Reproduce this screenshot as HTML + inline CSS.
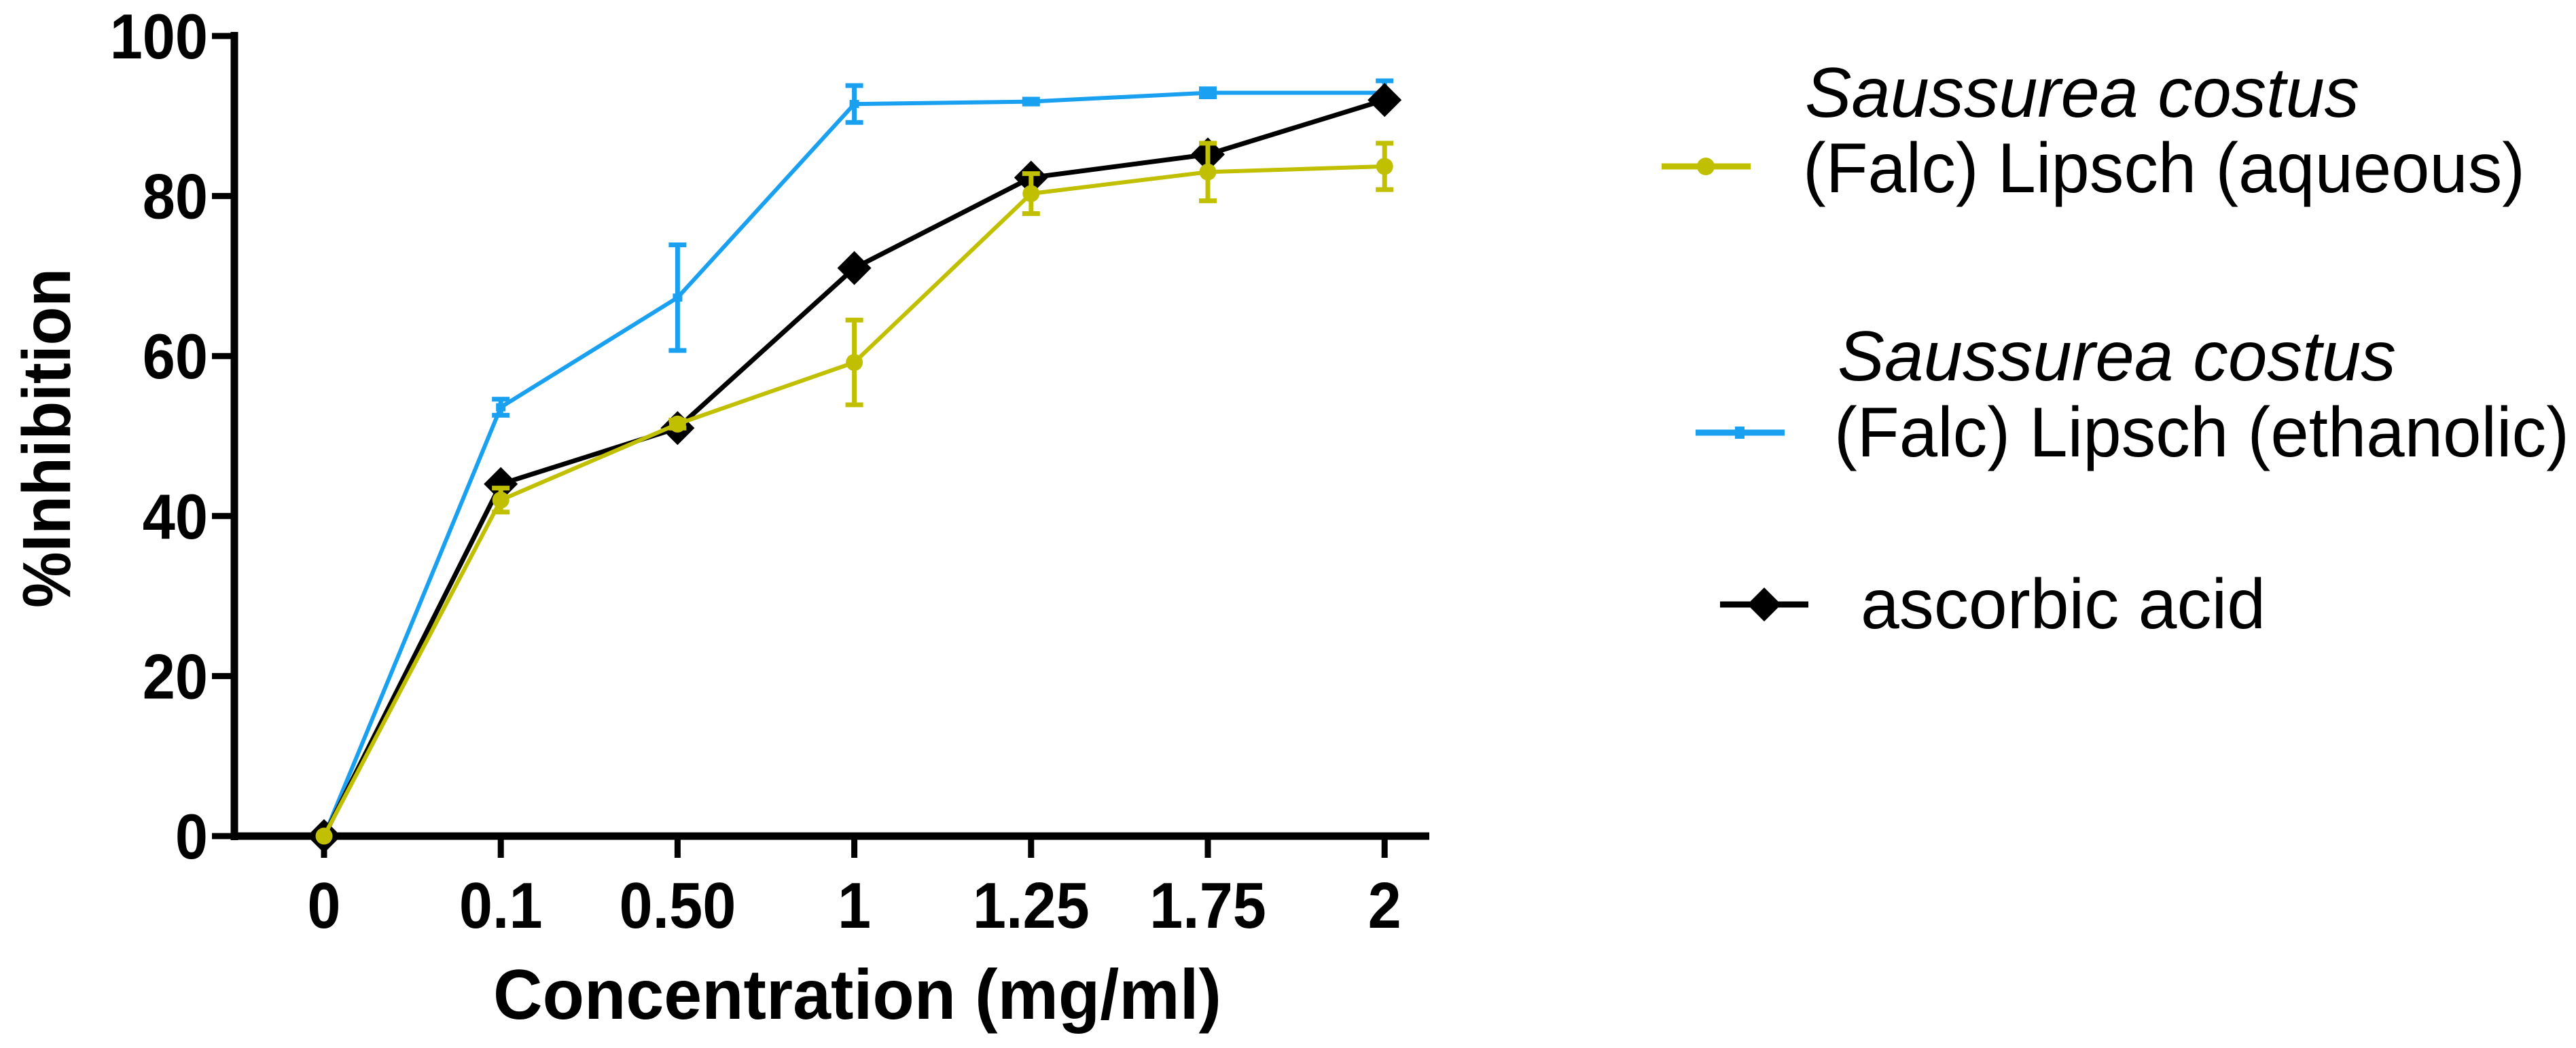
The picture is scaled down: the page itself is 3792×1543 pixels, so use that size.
<!DOCTYPE html>
<html><head><meta charset="utf-8"><style>
html,body{margin:0;padding:0;background:#fff;}
svg{display:block;}
</style></head><body>
<svg id="chart" width="3792" height="1543" viewBox="0 0 3792 1543" xmlns="http://www.w3.org/2000/svg">
<g id="axes"></g>
<g id="series"></g>
<g id="legend">
  <g>
    <line x1="2446" y1="245" x2="2577" y2="245" stroke="#c0c000" stroke-width="9"/>
    <circle cx="2511" cy="245" r="13" fill="#c0c000"/>
    <text x="2657" y="172" font-family="Liberation Sans, sans-serif" font-style="italic" font-size="104" textLength="816" lengthAdjust="spacingAndGlyphs">Saussurea costus</text>
    <text x="2654" y="283" font-family="Liberation Sans, sans-serif" font-size="104" textLength="1063" lengthAdjust="spacingAndGlyphs">(Falc) Lipsch (aqueous)</text>
  </g>
  <g>
    <line x1="2496" y1="637" x2="2627" y2="637" stroke="#1aa0f0" stroke-width="9"/>
    <rect x="2554" y="628" width="14" height="18" fill="#1aa0f0"/>
    <text x="2705" y="560" font-family="Liberation Sans, sans-serif" font-style="italic" font-size="104" textLength="822" lengthAdjust="spacingAndGlyphs">Saussurea costus</text>
    <text x="2700" y="672" font-family="Liberation Sans, sans-serif" font-size="104" textLength="1082" lengthAdjust="spacingAndGlyphs">(Falc) Lipsch (ethanolic)</text>
  </g>
  <g>
    <line x1="2532" y1="890" x2="2662" y2="890" stroke="#000" stroke-width="9"/>
    <polygon points="2597,865 2622,890 2597,915 2572,890" fill="#000"/>
    <text x="2739" y="925" font-family="Liberation Sans, sans-serif" font-size="104" textLength="596" lengthAdjust="spacingAndGlyphs">ascorbic acid</text>
  </g>
</g>
</svg>
<script>
const categories = ["0","0.1","0.50","1","1.25","1.75","2"];
const yTicks = [0,20,40,60,80,100];
const aqueous = [0,42,51.5,59.2,80.3,83,83.7];
const aqueousErr = [0,1.5,0.5,5.3,2.5,3.6,2.9];
const ethanolic = [0,53.6,67.3,91.5,91.8,92.9,92.9];
const ethanolicErr = [0,1,6.6,2.3,0.3,0.5,1.5];
const ascorbic = [0,44,51,71,82.3,85.2,92];

const NS="http://www.w3.org/2000/svg";
const X0=477, DX=260.2, Y0=1231, Y100=53;
const xs=i=>X0+i*DX;
const ys=v=>Y0-(v/100)*(Y0-Y100);
function mk(tag,attrs,parent){const e=document.createElementNS(NS,tag);for(const k in attrs)e.setAttribute(k,attrs[k]);parent.appendChild(e);return e;}
const axes=document.getElementById('axes'), series=document.getElementById('series');
const font="Liberation Sans, sans-serif";

let yl=mk('line',{x1:345,y1:ys(100)-6,x2:345,y2:Y0+6,stroke:'#000','stroke-width':11},axes);


let xl=mk('line',{x1:340,y1:Y0,x2:2104,y2:Y0,stroke:'#000','stroke-width':11},axes);



yTicks.forEach(v=>{
  let t=mk('line',{x1:312,y1:ys(v),x2:345,y2:ys(v),stroke:'#000','stroke-width':9},axes);
  
  
  let lb=mk('text',{x:306,y:ys(v)+33,'text-anchor':'end','font-family':font,'font-weight':'bold','font-size':94,transform:`translate(306 0) scale(0.92 1) translate(-306 0)`},axes);
  lb.textContent=String(v);
  
  
});
categories.forEach((c,i)=>{
  let t=mk('line',{x1:xs(i),y1:Y0,x2:xs(i),y2:Y0+32,stroke:'#000','stroke-width':9},axes);
  
  
  let lb=mk('text',{x:xs(i),y:1366,'text-anchor':'middle','font-family':font,'font-weight':'bold','font-size':96,transform:`translate(${xs(i)} 0) scale(0.92 1) translate(${-xs(i)} 0)`},axes);
  lb.textContent=c;
  
  
});
let xt=mk('text',{x:1262,y:1500,'text-anchor':'middle','font-family':font,'font-weight':'bold','font-size':104,textLength:1072,lengthAdjust:'spacingAndGlyphs'},axes);
xt.textContent='Concentration (mg/ml)';


let yt=mk('text',{x:0,y:0,'text-anchor':'middle','font-family':font,'font-weight':'bold','font-size':100,textLength:500,lengthAdjust:'spacingAndGlyphs',transform:'translate(103 645) rotate(-90)'},axes);
yt.textContent='%Inhibition';



function drawSeries(vals,errs,color,width,name,marker){
  const g=mk('g',{},series);
  
  
  if(errs){errs.forEach((e,i)=>{if(e<=0)return;
    const x=xs(i),yt=ys(vals[i]+e),yb=ys(vals[i]-e);
    let b=mk('path',{d:`M${x},${yt}V${yb}M${x-13},${yt}H${x+13}M${x-13},${yb}H${x+13}`,stroke:color,'stroke-width':7,fill:'none'},g);
    
    
  });}
  let p=mk('polyline',{points:vals.map((v,i)=>xs(i)+','+ys(v)).join(' '),fill:'none',stroke:color,'stroke-width':width,'stroke-linejoin':'round'},g);
  
  
  vals.forEach((v,i)=>{
    const x=xs(i),y=ys(v);let m;
    if(marker==='circle')m=mk('circle',{cx:x,cy:y,r:12.5,fill:color},g);
    else if(marker==='square')m=mk('rect',{x:x-7,y:y-6,width:14,height:12,fill:color},g);
    else m=mk('polygon',{points:`${x},${y-25} ${x+25},${y} ${x},${y+25} ${x-25},${y}`,fill:color},g);
    
    
  });
}
drawSeries(ethanolic,ethanolicErr,'#1aa0f0',6,'series-ethanolic','square');
drawSeries(ascorbic,null,'#000',7,'series-ascorbic','diamond');
drawSeries(aqueous,aqueousErr,'#c0c000',6,'series-aqueous','circle');
</script>
</body></html>
